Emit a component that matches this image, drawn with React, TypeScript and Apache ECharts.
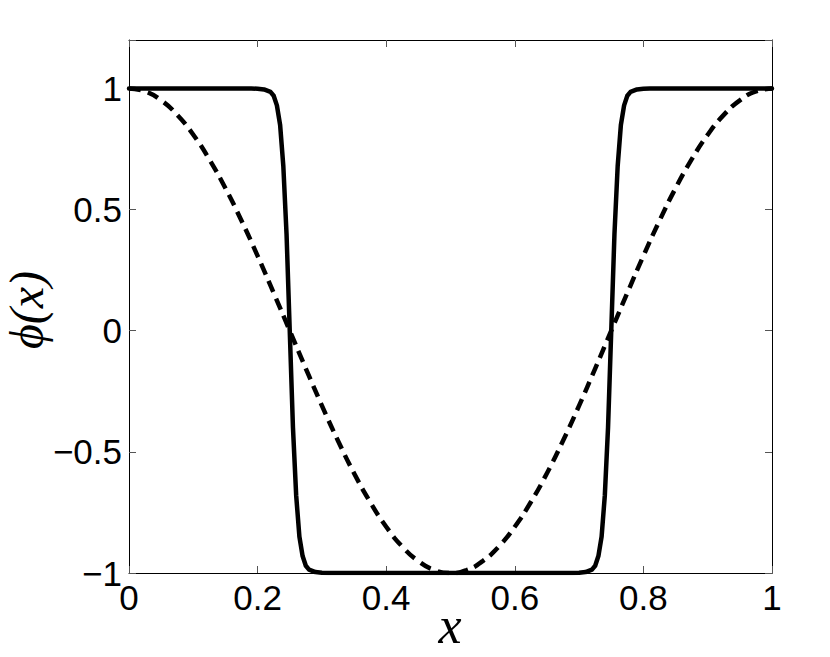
import React, { useEffect, useRef } from "react";
import * as echarts from "echarts";

const xTicks = [0, 0.2, 0.4, 0.6, 0.8, 1];
const yTicks = [-1, -0.5, 0, 0.5, 1];

const solidX = [0, 0.1, 0.19, 0.2, 0.21, 0.22, 0.225, 0.23, 0.235, 0.24, 0.245, 0.25, 0.255, 0.26, 0.265, 0.27, 0.275, 0.28, 0.29, 0.3, 0.31, 0.5,
  0.69, 0.7, 0.71, 0.72, 0.725, 0.73, 0.735, 0.74, 0.745, 0.75, 0.755, 0.76, 0.765, 0.77, 0.775, 0.78, 0.79, 0.8, 0.81, 0.9, 1];
const solidY = [1, 1, 1, 0.999, 0.996, 0.986, 0.97, 0.93, 0.85, 0.68, 0.4, 0, -0.4, -0.68, -0.85, -0.93, -0.97, -0.986, -0.996, -0.999, -1, -1,
  -1, -0.999, -0.996, -0.986, -0.97, -0.93, -0.85, -0.68, -0.4, 0, 0.4, 0.68, 0.85, 0.93, 0.97, 0.986, 0.996, 0.999, 1, 1, 1];

const dashX = [0, 0.025, 0.05, 0.075, 0.1, 0.125, 0.15, 0.175, 0.2, 0.225, 0.25, 0.275, 0.3, 0.325, 0.35, 0.375, 0.4, 0.425, 0.45, 0.475, 0.5,
  0.525, 0.55, 0.575, 0.6, 0.625, 0.65, 0.675, 0.7, 0.725, 0.75, 0.775, 0.8, 0.825, 0.85, 0.875, 0.9, 0.925, 0.95, 0.975, 1];
const dashY = [1, 0.988, 0.951, 0.891, 0.809, 0.707, 0.588, 0.454, 0.309, 0.156, 0, -0.156, -0.309, -0.454, -0.588, -0.707, -0.809, -0.891, -0.951, -0.988, -1,
  -0.988, -0.951, -0.891, -0.809, -0.707, -0.588, -0.454, -0.309, -0.156, 0, 0.156, 0.309, 0.454, 0.588, 0.707, 0.809, 0.891, 0.951, 0.988, 1];

const fmt = (v: number) => {
  const r = Math.round(v * 100) / 100;
  const s = String(Math.abs(r));
  return r < 0 ? "\u2212" + s : s;
};

export default function App() {
  const ref = useRef<HTMLDivElement>(null);
  useEffect(() => {
    if (!ref.current) return;
    const chart = echarts.init(ref.current, null, { renderer: "svg" });
    const tickFont = { fontFamily: "Liberation Sans", fontSize: 35, color: "#000" };
    const axisLine = { show: true, onZero: false, lineStyle: { color: "#000", width: 1 } };
    const axisTick = { show: true, inside: true, length: 7, lineStyle: { color: "#555", width: 1 } };
    chart.setOption({
      animation: false,
      backgroundColor: "#fff",
      grid: { left: 129, right: 58, top: 40, bottom: 84 },
      xAxis: [
        {
          type: "value", min: 0, max: 1, interval: 0.2,
          axisLine, axisTick, splitLine: { show: false },
          axisLabel: { ...tickFont, margin: 7, formatter: (v: number) => (xTicks.includes(Math.round(v * 100) / 100) ? fmt(v) : "") },
        },
        {
          type: "value", position: "top", min: 0, max: 1, interval: 0.2,
          axisLine, axisTick, splitLine: { show: false }, axisLabel: { show: false },
        },
      ],
      yAxis: [
        {
          type: "value", min: -1, max: 1.2, interval: 0.5,
          axisLine, axisTick, splitLine: { show: false },
          axisLabel: { ...tickFont, margin: 7, formatter: (v: number) => (yTicks.includes(Math.round(v * 100) / 100) ? fmt(v) : "") },
        },
        {
          type: "value", position: "right", min: -1, max: 1.2, interval: 0.5,
          axisLine, axisTick, splitLine: { show: false }, axisLabel: { show: false },
        },
      ],
      series: [
        {
          type: "line", data: dashX.map((x, i) => [x, dashY[i]]), showSymbol: false, smooth: true,
          lineStyle: { color: "#000", width: 4.5, type: [12, 7] }, z: 2,
        },
        {
          type: "line", data: solidX.map((x, i) => [x, solidY[i]]), showSymbol: false,
          lineStyle: { color: "#000", width: 4.5, join: "round", cap: "round" }, z: 3,
        },
      ],
      graphic: [
        {
          type: "text", x: 450, y: 625,
          style: { text: "x", font: "italic 52px 'Liberation Serif'", fill: "#000", align: "center", verticalAlign: "middle" },
        },
        {
          type: "text", x: 26, y: 310, rotation: Math.PI / 2,
          style: { text: "\u03d5(x)", font: "italic 48px 'Liberation Serif'", fill: "#000", align: "center", verticalAlign: "middle" },
        },
      ],
    });
    return () => chart.dispose();
  }, []);
  return <div ref={ref} style={{ width: 830, height: 657, position: "absolute", left: 0, top: 0 }} />;
}
